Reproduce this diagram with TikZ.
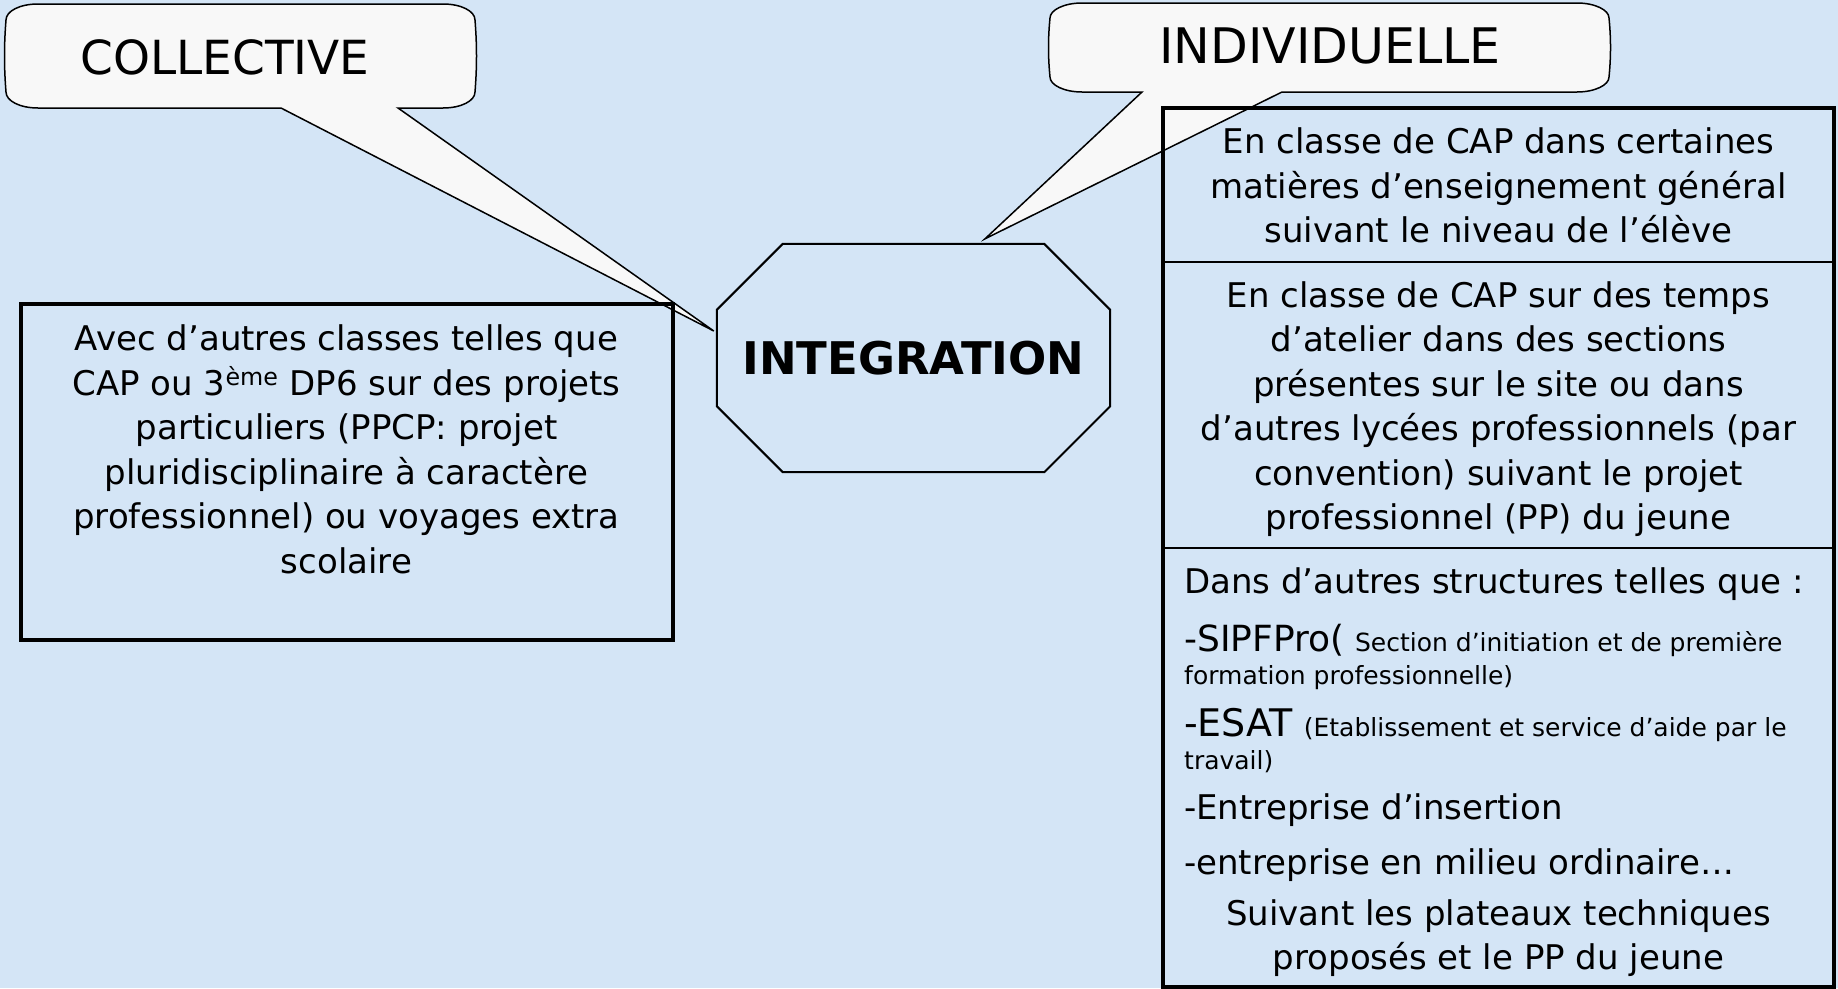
\documentclass[tikz,border=0pt]{standalone}
\usepackage{fontspec}
\setmainfont{DejaVu Sans}
\usetikzlibrary{calc}
\definecolor{bgblue}{RGB}{212,229,246}
\definecolor{callfill}{RGB}{248,248,248}
\begin{document}
\begin{tikzpicture}[x=1pt,y=-1pt,
  callout/.style={draw=black,line width=1.5pt,fill=callfill,line join=miter},
  bigbox/.style={draw=black,line width=4pt,inner sep=0pt},
  divider/.style={draw=black,line width=2.5pt},
  octa/.style={draw=black,line width=2pt},
  body/.style={font=\fontsize{34}{44.5}\selectfont,inner sep=0pt,align=center,anchor=base},
  item/.style={font=\fontsize{34}{44.5}\selectfont,inner sep=0pt,anchor=base west},
  smalltxt/.style={font=\fontsize{25}{30}\selectfont},
  titletxt/.style={font=\fontsize{47}{56}\selectfont,inner sep=0pt},
  integtxt/.style={font=\fontsize{45}{54}\selectfont\bfseries,inner sep=0pt}]
\fill[bgblue] (0,0) rectangle (1838,988);
\useasboundingbox (0,0) rectangle (1838,988);

% central octagon
\node[integtxt,minimum width=393pt,minimum height=228pt] (integ) at (913.5,358) {INTEGRATION};
\draw[octa] ([xshift=66pt]integ.north west) -- ([xshift=-66pt]integ.north east)
  -- ([yshift=-66pt]integ.north east) -- ([yshift=66pt]integ.south east)
  -- ([xshift=-66pt]integ.south east) -- ([xshift=66pt]integ.south west)
  -- ([yshift=66pt]integ.south west) -- ([yshift=-66pt]integ.north west) -- cycle;
\coordinate (ctip) at ([xshift=-3pt,yshift=27pt]integ.west);
\coordinate (itip) at ([xshift=71.5pt,yshift=5pt]integ.north);

% callout COLLECTIVE
\draw[callout] (38,4) -- (443,4) .. controls (461,4) and (475,11) .. (475,20)
  .. controls (477,45) and (477,67) .. (475,92)
  .. controls (475,101) and (461,108) .. (443,108) -- (398,108) -- (ctip) -- (281,108)
  -- (38,108) .. controls (20,108) and (6,101) .. (6,92)
  .. controls (4,67) and (4,45) .. (6,20) .. controls (6,11) and (20,4) .. (38,4) -- cycle;
\node[titletxt] (coll) at (225,57) {COLLECTIVE};

% callout INDIVIDUELLE
\draw[callout] (1082,3) -- (1577,3) .. controls (1595,3) and (1609,10) .. (1609,18)
  .. controls (1611,38) and (1611,57) .. (1609,77)
  .. controls (1609,85) and (1595,92) .. (1577,92) -- (1282,92) -- (itip) -- (1142,92)
  -- (1082,92) .. controls (1064,92) and (1050,85) .. (1050,77)
  .. controls (1048,57) and (1048,38) .. (1050,18) .. controls (1050,10) and (1064,3) .. (1082,3) -- cycle;
\node[titletxt,font=\fontsize{49}{56}\selectfont] (indiv) at (1330,46) {INDIVIDUELLE};

% left box
\node[bigbox,minimum width=652pt,minimum height=336pt] (collbox) at (346.5,472) {};
\node[body] (colltext) at (346.5,573) {Avec d’autres classes telles que\\
CAP ou 3\textsuperscript{ème} DP6 sur des projets\\
particuliers (PPCP: projet\\
pluridisciplinaire à caractère\\
professionnel) ou voyages extra\\
scolaire};

% right box
\node[bigbox,minimum width=671pt,minimum height=879pt] (indbox) at (1498.5,547.5) {};
\coordinate (d1) at (0,262);
\coordinate (d2) at (0,548);
\draw[divider] (indbox.west |- d1) -- (indbox.east |- d1);
\draw[divider] (indbox.west |- d2) -- (indbox.east |- d2);

\node[body] (s1) at (1498.5,242.5) {En classe de CAP dans certaines\\
matières d’enseignement général\\
suivant le niveau de l’élève};

\node[body] (s2) at (1498.5,529.5) {En classe de CAP sur des temps\\
d’atelier dans des sections\\
présentes sur le site ou dans\\
d’autres lycées professionnels (par\\
convention) suivant le projet\\
professionnel (PP) du jeune};

\node[item] (s3a) at (1184,593) {Dans d’autres structures telles que :};
\node[item] (s3b) at (1184,651) {{\fontsize{36}{44}\selectfont -SIPFPro(} {\fontsize{25}{30}\selectfont Section d’initiation et de première}};
\node[item,smalltxt] (s3c) at (1184,684) {formation professionnelle)};
\node[item] (s3d) at (1184,736) {{\fontsize{38}{44}\selectfont -ESAT} {\fontsize{25}{30}\selectfont (Etablissement et service d’aide par le}};
\node[item,smalltxt] (s3e) at (1184,769) {travail)};
\node[item] (s3f) at (1184,819) {-Entreprise d’insertion};
\node[item] (s3g) at (1184,874) {-entreprise en milieu ordinaire…};
\node[body] (s3h) at (1498.5,969.5) {Suivant les plateaux techniques\\
proposés et le PP du jeune};
\end{tikzpicture}
\end{document}
